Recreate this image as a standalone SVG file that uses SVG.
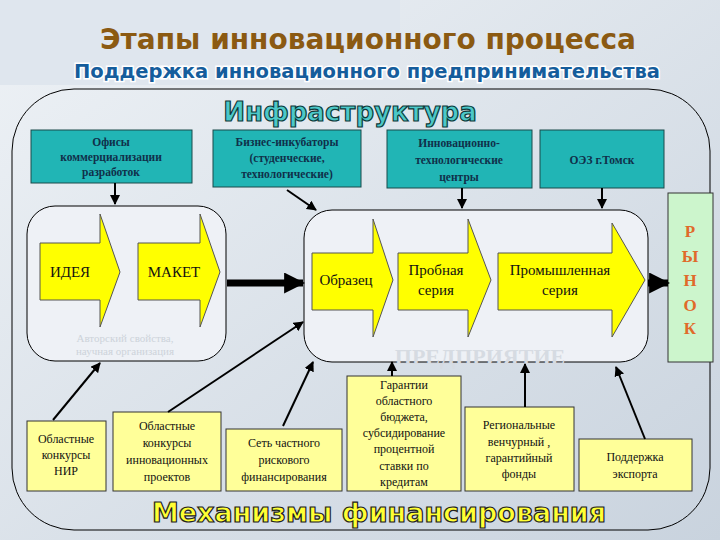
<svg xmlns="http://www.w3.org/2000/svg" width="720" height="540" viewBox="0 0 720 540">
<defs>
<linearGradient id="bg" x1="0" y1="0" x2="1" y2="1"><stop offset="0" stop-color="#eef2f6"/><stop offset="1" stop-color="#c9d3de"/></linearGradient>
<marker id="ah" viewBox="0 0 10 10" refX="9" refY="5" markerWidth="5" markerHeight="5" orient="auto"><path d="M0,0L10,5L0,10z" fill="#000"/></marker>
<marker id="ahb" viewBox="0 0 10 10" refX="9" refY="5" markerWidth="3" markerHeight="3" orient="auto"><path d="M0,0L10,5L0,10z" fill="#000"/></marker>
</defs>
<style>
.infra{fill:#21b5b5;stroke:#1a4a4a;stroke-width:1}
.it{font-family:"Liberation Serif",serif;font-weight:bold;font-size:11.5px;fill:#10304a;text-anchor:middle}
.fin{fill:#ffff99;stroke:#333;stroke-width:1}
.ft{font-family:"Liberation Serif",serif;font-size:12px;fill:#111;text-anchor:middle}
.arr{fill:#ffff00;stroke:#555;stroke-width:1}
.at{font-family:"Liberation Serif",serif;font-size:15px;fill:#111;text-anchor:middle}
.ln{stroke:#000;stroke-width:2;fill:none;marker-end:url(#ah)}
.thick{stroke:#000;stroke-width:7;fill:none;marker-end:url(#ahb)}
.pane{fill:#eef1f6;stroke:#000;stroke-width:1}
</style>
<rect width="720" height="540" fill="url(#bg)"/>
<rect x="0" y="0" width="400" height="85" fill="#dfe6ee"/>
<text x="368" y="49" font-family="DejaVu Sans,sans-serif" font-weight="bold" font-size="28" fill="#8b5a12" text-anchor="middle">Этапы инновационного процесса</text>
<text x="367" y="78" font-family="DejaVu Sans,sans-serif" font-weight="bold" font-size="19.5" fill="#155d9c" stroke="#fff" stroke-width="3" paint-order="stroke" text-anchor="middle">Поддержка инновационного предпринимательства</text>
<rect x="12" y="89" width="698" height="441" rx="62" fill="none" stroke="#000" stroke-width="1"/>
<text x="350" y="121" font-family="DejaVu Sans,sans-serif" font-weight="bold" font-size="26" fill="#4cc8c8" stroke="#0d3a3a" stroke-width="1.2" text-anchor="middle">Инфраструктура</text>

<g id="n-offices"><rect class="infra" x="31" y="130" width="161" height="53"/><text class="it" x="111" y="146">Офисы</text><text class="it" x="111" y="161">коммерциализации</text><text class="it" x="111" y="176">разработок</text></g>
<g id="n-incub"><rect class="infra" x="213" y="130" width="148" height="57"/><text class="it" x="287" y="146">Бизнес-инкубаторы</text><text class="it" x="287" y="162">(студенческие,</text><text class="it" x="287" y="178">технологические)</text></g>
<g id="n-itc"><rect class="infra" x="387" y="130" width="145" height="58"/><text class="it" x="459" y="147">Инновационно-</text><text class="it" x="459" y="164">технологические</text><text class="it" x="459" y="181">центры</text></g>
<g id="n-oez"><rect class="infra" x="540" y="130" width="124" height="58"/><text class="it" x="602" y="164">ОЭЗ г.Томск</text></g>

<g id="n-leftpane"><rect class="pane" x="27" y="206" width="199" height="155" rx="28"/>
<text x="125" y="342" font-family="Liberation Serif,serif" font-size="11" fill="#cdd3da" text-anchor="middle">Авторский свойства,</text>
<text x="125" y="355" font-family="Liberation Serif,serif" font-size="11" fill="#cdd3da" text-anchor="middle">научная организация</text></g>
<g id="n-rightpane"><rect class="pane" x="304" y="210" width="344" height="152" rx="28"/>
<text x="480" y="364" font-family="Liberation Serif,serif" font-weight="bold" font-size="22" fill="#d6dbe2" text-anchor="middle">ПРЕДПРИЯТИЕ</text></g>

<g id="n-idea"><path class="arr" d="M40,243H100V214L120,272L100,327V300H40z"/><text class="at" x="70" y="277">ИДЕЯ</text></g>
<g id="n-maket"><path class="arr" d="M138,243H200V214L220,272L200,327V300H138z"/><text class="at" x="174" y="277">МАКЕТ</text></g>
<g id="n-obr"><path class="arr" d="M312,253H373V219L393,280L373,337V310H312z"/><text class="at" x="346" y="285">Образец</text></g>
<g id="n-prob"><path class="arr" d="M398,253H468V219L491,280L468,337V310H398z"/><text class="at" x="436" y="275">Пробная</text><text class="at" x="436" y="295">серия</text></g>
<g id="n-prom"><path class="arr" d="M498,253H612V223L645,280L612,337V310H498z"/><text class="at" x="560" y="275">Промышленная</text><text class="at" x="560" y="295">серия</text></g>

<g id="n-market"><rect x="668" y="193" width="45" height="169" fill="#ccf5cc" stroke="#333"/>
<g font-family="Liberation Serif,serif" font-weight="bold" font-size="17" fill="#e06a2a" text-anchor="middle"><text x="690" y="237">Р</text><text x="690" y="262">Ы</text><text x="690" y="286">Н</text><text x="690" y="311">О</text><text x="690" y="334">К</text></g></g>

<g id="n-f1"><rect class="fin" x="27" y="421" width="79" height="70"/><text class="ft" x="66" y="443">Областные</text><text class="ft" x="66" y="459">конкурсы</text><text class="ft" x="66" y="475">НИР</text></g>
<g id="n-f2"><rect class="fin" x="113" y="412" width="108" height="79"/><text class="ft" x="167" y="430">Областные</text><text class="ft" x="167" y="447">конкурсы</text><text class="ft" x="167" y="464">инновационных</text><text class="ft" x="167" y="481">проектов</text></g>
<g id="n-f3"><rect class="fin" x="226" y="429" width="116" height="62"/><text class="ft" x="284" y="447">Сеть частного</text><text class="ft" x="284" y="464">рискового</text><text class="ft" x="284" y="481">финансирования</text></g>
<g id="n-f4"><rect class="fin" x="347" y="376" width="114" height="115"/><text class="ft" x="404" y="389">Гарантии</text><text class="ft" x="404" y="405">областного</text><text class="ft" x="404" y="421">бюджета,</text><text class="ft" x="404" y="437">субсидирование</text><text class="ft" x="404" y="453">процентной</text><text class="ft" x="404" y="470">ставки по</text><text class="ft" x="404" y="486">кредитам</text></g>
<g id="n-f5"><rect class="fin" x="465" y="407" width="109" height="84"/><text class="ft" x="519" y="429">Региональные</text><text class="ft" x="519" y="446">венчурный ,</text><text class="ft" x="519" y="462">гарантийный</text><text class="ft" x="519" y="478">фонды</text></g>
<g id="n-f6"><rect class="fin" x="579" y="439" width="113" height="52"/><text class="ft" x="635" y="461">Поддержка</text><text class="ft" x="635" y="478">экспорта</text></g>

<text x="379" y="522" font-family="DejaVu Sans,sans-serif" font-weight="bold" font-size="27" fill="#ffff33" stroke="#222" stroke-width="1.2" text-anchor="middle">Механизмы финансирования</text>

<g id="connectors">
<path class="ln" d="M115,183V204"/>
<path class="ln" d="M287,190L316,210"/>
<path class="ln" d="M462,188V208"/>
<path class="ln" d="M602,188V208"/>
<path class="thick" d="M227,283H303"/>
<path class="thick" d="M648,283H668"/>
<path class="ln" d="M53,420L100,363"/>
<path class="ln" d="M168,412L303,322"/>
<path class="ln" d="M283,426L313,362"/>
<path class="ln" d="M392,376V362"/>
<path class="ln" d="M525,407V364"/>
<path class="ln" d="M645,439L616,367"/>
</g>
</svg>
